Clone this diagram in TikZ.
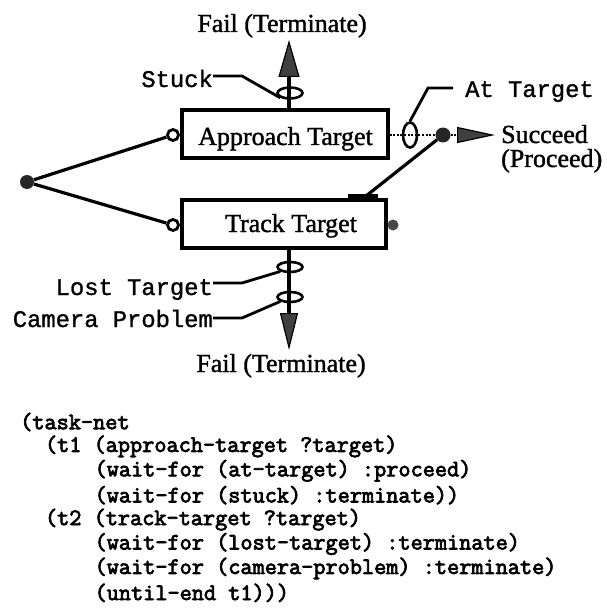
\documentclass[tikz,border=0pt]{standalone}
\usepackage{fontspec}
\setmainfont{Liberation Serif}
\newfontfamily\titlefont{Liberation Serif}[FakeBold=1.4]
\newfontfamily\labelfont{Liberation Mono}[FakeBold=1.2]
\newfontfamily\codefont{Latin Modern Mono}[FakeBold=3.2]
\usetikzlibrary{shapes.geometric,arrows.meta}

\tikzset{
  taskbox/.style={draw, line width=3.2pt, inner sep=0pt},
  title/.style={font=\titlefont\fontsize{26}{28}\selectfont, inner sep=0pt},
  cond/.style={font=\labelfont\fontsize{23.8}{26}\selectfont, inner sep=0pt},
  code/.style={font=\codefont\fontsize{23.6}{26}\selectfont, inner sep=0pt, anchor=west},
  port/.style={circle, draw, line width=2.8pt, fill=white, minimum size=11pt, inner sep=0pt},
  blob/.style={circle, fill=black!85, minimum size=#1, inner sep=0pt},
  ring/.style={ellipse, draw, line width=2.6pt, inner sep=0pt},
  conn/.style={line width=3.2pt},
  leader/.style={line width=2.8pt},
  dotline/.style={line width=2.6pt, dash pattern=on 2pt off 1.6pt},
  failhead/.style={-{Triangle[length=37pt, width=#1, fill=black!75, line width=1.2pt]}},
}

\begin{document}
\begin{tikzpicture}[x=1pt, y=-1pt]
\useasboundingbox (0,0) rectangle (606,612);

% task boxes
\node[taskbox, minimum width=206pt, minimum height=48pt] (approach) at (285,134) {};
\node[title, anchor=base] (approachtxt) at (285.5,145) {Approach Target};
\node[taskbox, minimum width=204pt, minimum height=48pt] (track) at (284,224) {};
\node[title, anchor=base] (tracktxt) at (291,232) {Track Target};

% start fork
\node[blob=14pt] (fork) at (27,182) {};
\node[port] (approachin) at (173,135) {};
\node[port] (trackin) at (173,225) {};
\draw[conn] (fork) -- (approachin);
\draw[conn] (fork) -- (trackin);

% stuck -> fail (top)
\coordinate (approachtop) at (289,110);
\coordinate (failtoptip) at (289,40);
\draw[conn, failhead=21pt] (approachtop) -- (failtoptip);
\node[ring, minimum width=25pt, minimum height=11pt] (stuck) at (290,93) {};
\node[title, anchor=base] (failtop) at (282,32) {Fail (Terminate)};
\node[cond, anchor=base east] (stucklbl) at (213,87) {Stuck};
\draw[leader] ([yshift=11pt]stucklbl.base east) -- ++(29,0) -- (stuck.south west);

% at target -> succeed
\node[blob=15pt] (join) at (443,135) {};
\coordinate (succtip) at (495,135);
\draw[dotline] (approach.east |- join) -- (join);
\node[ring, minimum width=14pt, minimum height=25pt] (attarget) at (410,135) {};
\draw[dotline, -{Triangle[length=38pt, width=16pt, fill=black!75, line width=1.2pt, sep=0pt]}] (join) -- (succtip);
\node[cond, anchor=base west] (atlbl) at (465,97) {At Target};
\draw[leader] (attarget.north) -- (428,88) -- ([xshift=-12pt, yshift=9pt]atlbl.base west);
\node[title, anchor=base west] (succeed) at (501,143) {Succeed};
\node[title, anchor=base west] (proceed) at (501,167) {(Proceed)};

% until-end link from track target
\coordinate (barleft) at (348,196);
\coordinate (barright) at (378,196);
\coordinate (barmid) at (366,196);
\draw[line width=3.8pt] (barleft) -- (barright);
\draw[conn] (barmid) -- (join);
\node[circle, fill=black!72, minimum size=11pt, inner sep=0pt] (trackend) at (393,225) {};

% lost target / camera problem -> fail (bottom)
\coordinate (trackbottom) at (289,248);
\coordinate (failbottip) at (289,350);
\draw[conn, failhead=18pt] (trackbottom) -- (failbottip);
\node[ring, minimum width=25pt, minimum height=10pt] (lost) at (290,267) {};
\node[ring, minimum width=25pt, minimum height=10pt] (camera) at (290,297) {};
\node[cond, anchor=base east] (lostlbl) at (213,295) {Lost Target};
\node[cond, anchor=base east] (cameralbl) at (213,327) {Camera Problem};
\draw[leader] ([yshift=12pt]lostlbl.base east) -- ++(29,0) -- (lost.south west);
\draw[leader] ([yshift=9pt]cameralbl.base east) -- ++(29,0) -- (camera.south west);
\node[title, anchor=base] (failbot) at (281,372) {Fail (Terminate)};

% task-net listing
\node[code] (l1) at (20,422) {(task-net};
\node[code] (l2) at (44.8,446.4) {(t1 (approach-target ?target)};
\node[code] (l3) at (94.4,470.8) {(wait-for (at-target) :proceed)};
\node[code] (l4) at (94.4,495.2) {(wait-for (stuck) :terminate))};
\node[code] (l5) at (44.8,519.6) {(t2 (track-target ?target)};
\node[code] (l6) at (94.4,544) {(wait-for (lost-target) :terminate)};
\node[code] (l7) at (94.4,568.4) {(wait-for (camera-problem) :terminate)};
\node[code] (l8) at (94.4,592.8) {(until-end t1)))};
\end{tikzpicture}
\end{document}
